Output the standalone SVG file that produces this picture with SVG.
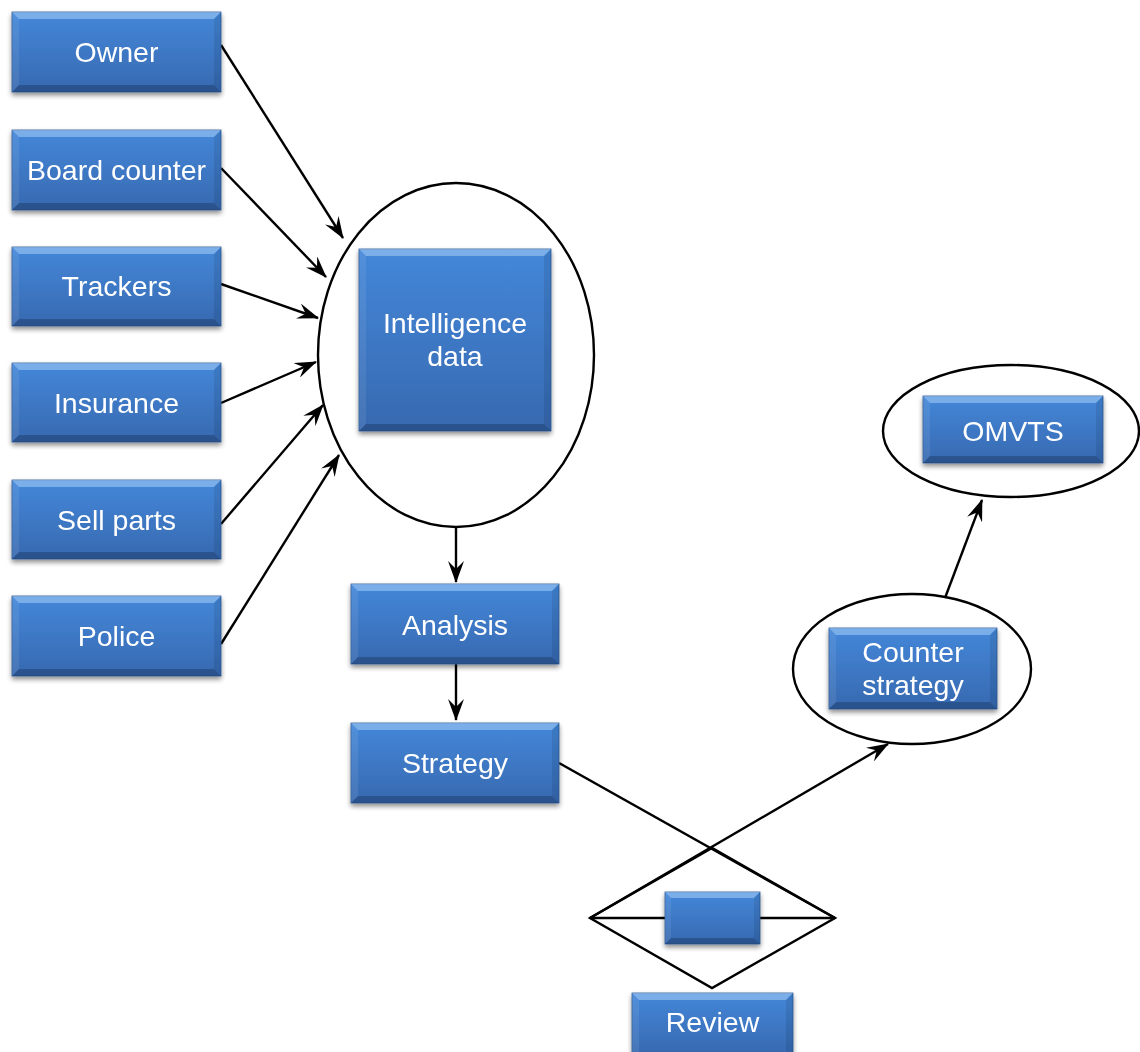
<svg xmlns="http://www.w3.org/2000/svg" width="1140" height="1052" viewBox="0 0 1140 1052">
  <defs>
    <linearGradient id="boxFill" x1="0" y1="0" x2="0" y2="1">
      <stop offset="0" stop-color="#4487d9"/>
      <stop offset="1" stop-color="#3769b0"/>
    </linearGradient>
    <filter id="shadow" x="-10%" y="-10%" width="120%" height="130%">
      <feGaussianBlur in="SourceAlpha" stdDeviation="2.5"/>
      <feOffset dx="0" dy="3" result="b"/>
      <feComponentTransfer><feFuncA type="linear" slope="0.45"/></feComponentTransfer>
      <feMerge><feMergeNode/><feMergeNode in="SourceGraphic"/></feMerge>
    </filter>
    <marker id="arrow" viewBox="0 0 22 16" refX="21" refY="8" markerWidth="22" markerHeight="16" markerUnits="userSpaceOnUse" orient="auto">
      <path d="M0,0 L22,8 L0,16 L8,8 z" fill="#000"/>
    </marker>
  </defs>
  <style>
    .box { fill: url(#boxFill); stroke: #2d5a93; stroke-width: 0.8; }
    .hi { fill: #bfe0ff; opacity: 0.45; }
    .lo { fill: #0a1e3c; opacity: 0.3; }
    .side { fill: #ffffff; opacity: 0.08; }
    .sideD { fill: #0a1e3c; opacity: 0.12; }
    .lbl { font-family: "Liberation Sans", Arial, sans-serif; font-size: 28.5px; fill: #ffffff; text-anchor: middle; }
    .ring { fill: none; stroke: #000; stroke-width: 2.4; }
    .edge { fill: none; stroke: #000; stroke-width: 2.4; }
    .arr { marker-end: url(#arrow); }
  </style>

  <rect width="1140" height="1052" fill="#ffffff"/>

  <!-- outline shapes behind the boxes -->
  <g id="outlines">
    <ellipse class="ring" cx="456" cy="355" rx="138" ry="172"/>
    <ellipse class="ring" cx="912" cy="669" rx="119" ry="75"/>
    <ellipse class="ring" cx="1011" cy="431" rx="128" ry="66"/>
    <polygon class="ring" points="590,918 712,848 835,918 712,988"/>
    <line class="edge" x1="590" y1="918" x2="835" y2="918"/>
  </g>

  <!-- connectors -->
  <g id="connectors">
    <line class="edge arr" x1="221" y1="45" x2="343" y2="238"/>
    <line class="edge arr" x1="221" y1="168" x2="326" y2="277"/>
    <line class="edge arr" x1="221" y1="284" x2="318" y2="318"/>
    <line class="edge arr" x1="221" y1="403" x2="316" y2="362"/>
    <line class="edge arr" x1="221" y1="524" x2="323" y2="405"/>
    <line class="edge arr" x1="221" y1="644" x2="339" y2="455"/>
    <line class="edge arr" x1="456" y1="527" x2="456" y2="582"/>
    <line class="edge arr" x1="456" y1="664" x2="456" y2="720"/>
    <line class="edge" x1="559" y1="763" x2="835" y2="918"/>
    <line class="edge arr" x1="590" y1="918" x2="888" y2="744"/>
    <line class="edge arr" x1="945" y1="598" x2="982" y2="500"/>
  </g>

  <!-- beveled blue boxes -->
  <g id="owner" filter="url(#shadow)">
    <rect class="box" x="12" y="12" width="209" height="80"/>
    <polygon class="hi" points="12,12 221,12 214,19 19,19"/>
    <polygon class="lo" points="12,92 221,92 214,85 19,85"/>
    <polygon class="side" points="12,12 19,19 19,85 12,92"/>
    <polygon class="sideD" points="221,12 214,19 214,85 221,92"/>
    <text class="lbl" x="116.5" y="62">Owner</text>
  </g>
  <g id="board-counter" filter="url(#shadow)">
    <rect class="box" x="12" y="130" width="209" height="80"/>
    <polygon class="hi" points="12,130 221,130 214,137 19,137"/>
    <polygon class="lo" points="12,210 221,210 214,203 19,203"/>
    <polygon class="side" points="12,130 19,137 19,203 12,210"/>
    <polygon class="sideD" points="221,130 214,137 214,203 221,210"/>
    <text class="lbl" x="116.5" y="180">Board counter</text>
  </g>
  <g id="trackers" filter="url(#shadow)">
    <rect class="box" x="12" y="247" width="209" height="79"/>
    <polygon class="hi" points="12,247 221,247 214,254 19,254"/>
    <polygon class="lo" points="12,326 221,326 214,319 19,319"/>
    <polygon class="side" points="12,247 19,254 19,319 12,326"/>
    <polygon class="sideD" points="221,247 214,254 214,319 221,326"/>
    <text class="lbl" x="116.5" y="296">Trackers</text>
  </g>
  <g id="insurance" filter="url(#shadow)">
    <rect class="box" x="12" y="363" width="209" height="79"/>
    <polygon class="hi" points="12,363 221,363 214,370 19,370"/>
    <polygon class="lo" points="12,442 221,442 214,435 19,435"/>
    <polygon class="side" points="12,363 19,370 19,435 12,442"/>
    <polygon class="sideD" points="221,363 214,370 214,435 221,442"/>
    <text class="lbl" x="116.5" y="413">Insurance</text>
  </g>
  <g id="sell-parts" filter="url(#shadow)">
    <rect class="box" x="12" y="480" width="209" height="79"/>
    <polygon class="hi" points="12,480 221,480 214,487 19,487"/>
    <polygon class="lo" points="12,559 221,559 214,552 19,552"/>
    <polygon class="side" points="12,480 19,487 19,552 12,559"/>
    <polygon class="sideD" points="221,480 214,487 214,552 221,559"/>
    <text class="lbl" x="116.5" y="530">Sell parts</text>
  </g>
  <g id="police" filter="url(#shadow)">
    <rect class="box" x="12" y="596" width="209" height="80"/>
    <polygon class="hi" points="12,596 221,596 214,603 19,603"/>
    <polygon class="lo" points="12,676 221,676 214,669 19,669"/>
    <polygon class="side" points="12,596 19,603 19,669 12,676"/>
    <polygon class="sideD" points="221,596 214,603 214,669 221,676"/>
    <text class="lbl" x="116.5" y="646">Police</text>
  </g>
  <g id="intelligence-data" filter="url(#shadow)">
    <rect class="box" x="359" y="249" width="192" height="182"/>
    <polygon class="hi" points="359,249 551,249 544,256 366,256"/>
    <polygon class="lo" points="359,431 551,431 544,424 366,424"/>
    <polygon class="side" points="359,249 366,256 366,424 359,431"/>
    <polygon class="sideD" points="551,249 544,256 544,424 551,431"/>
    <text class="lbl" x="455" y="333">Intelligence</text>
    <text class="lbl" x="455" y="366">data</text>
  </g>
  <g id="analysis" filter="url(#shadow)">
    <rect class="box" x="351" y="584" width="208" height="80"/>
    <polygon class="hi" points="351,584 559,584 552,591 358,591"/>
    <polygon class="lo" points="351,664 559,664 552,657 358,657"/>
    <polygon class="side" points="351,584 358,591 358,657 351,664"/>
    <polygon class="sideD" points="559,584 552,591 552,657 559,664"/>
    <text class="lbl" x="455" y="635">Analysis</text>
  </g>
  <g id="strategy" filter="url(#shadow)">
    <rect class="box" x="351" y="723" width="208" height="80"/>
    <polygon class="hi" points="351,723 559,723 552,730 358,730"/>
    <polygon class="lo" points="351,803 559,803 552,796 358,796"/>
    <polygon class="side" points="351,723 358,730 358,796 351,803"/>
    <polygon class="sideD" points="559,723 552,730 552,796 559,803"/>
    <text class="lbl" x="455" y="773">Strategy</text>
  </g>
  <g id="review-mark" filter="url(#shadow)">
    <rect class="box" x="665" y="892" width="95" height="52"/>
    <polygon class="hi" points="665,892 760,892 754,898 671,898"/>
    <polygon class="lo" points="665,944 760,944 754,938 671,938"/>
    <polygon class="side" points="665,892 671,898 671,938 665,944"/>
    <polygon class="sideD" points="760,892 754,898 754,938 760,944"/>
  </g>
  <g id="review" filter="url(#shadow)">
    <rect class="box" x="632" y="993" width="161" height="62"/>
    <polygon class="hi" points="632,993 793,993 786,1000 639,1000"/>
    <polygon class="side" points="632,993 639,1000 639,1055 632,1055"/>
    <polygon class="sideD" points="793,993 786,1000 786,1055 793,1055"/>
    <text class="lbl" x="712.5" y="1032">Review</text>
  </g>
  <g id="counter-strategy" filter="url(#shadow)">
    <rect class="box" x="829" y="628" width="168" height="81"/>
    <polygon class="hi" points="829,628 997,628 990,635 836,635"/>
    <polygon class="lo" points="829,709 997,709 990,702 836,702"/>
    <polygon class="side" points="829,628 836,635 836,702 829,709"/>
    <polygon class="sideD" points="997,628 990,635 990,702 997,709"/>
    <text class="lbl" x="913" y="662">Counter</text>
    <text class="lbl" x="913" y="695">strategy</text>
  </g>
  <g id="omvts" filter="url(#shadow)">
    <rect class="box" x="923" y="396" width="180" height="67"/>
    <polygon class="hi" points="923,396 1103,396 1096,403 930,403"/>
    <polygon class="lo" points="923,463 1103,463 1096,456 930,456"/>
    <polygon class="side" points="923,396 930,403 930,456 923,463"/>
    <polygon class="sideD" points="1103,396 1096,403 1096,456 1103,463"/>
    <text class="lbl" x="1013" y="441">OMVTS</text>
  </g>
</svg>
